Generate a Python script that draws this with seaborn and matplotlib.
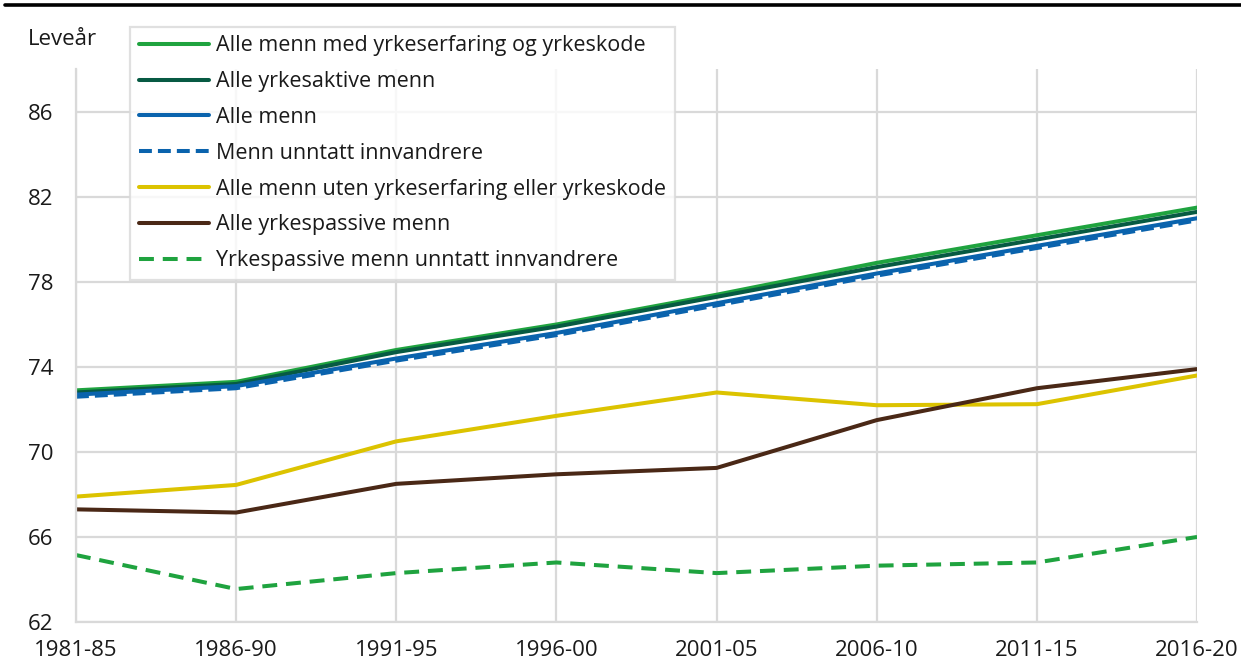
import numpy as np
import pandas as pd
import seaborn as sns
import matplotlib.pyplot as plt
from matplotlib.lines import Line2D

periods = ["1981-85", "1986-90", "1991-95", "1996-00", "2001-05", "2006-10", "2011-15", "2016-20"]

med_yrke = [72.9, 73.3, 74.8, 76.0, 77.4, 78.9, 80.2, 81.5]
yrkesaktive = [72.8, 73.2, 74.7, 75.9, 77.3, 78.7, 80.0, 81.3]
alle_menn = [72.7, 73.1, 74.4, 75.6, 77.0, 78.4, 79.7, 81.0]
unntatt_innv = [72.6, 73.0, 74.3, 75.5, 76.9, 78.3, 79.6, 80.9]
uten_yrke = [67.9, 68.45, 70.5, 71.7, 72.8, 72.2, 72.25, 73.6]
yrkespassive = [67.3, 67.15, 68.5, 68.95, 69.25, 71.5, 73.0, 73.9]
passive_unntatt = [65.15, 63.55, 64.3, 64.8, 64.3, 64.65, 64.8, 66.0]

names = [
    "Alle menn med yrkeserfaring og yrkeskode",
    "Alle yrkesaktive menn",
    "Alle menn",
    "Menn unntatt innvandrere",
    "Alle menn uten yrkeserfaring eller yrkeskode",
    "Alle yrkespassive menn",
    "Yrkespassive menn unntatt innvandrere",
]
series = [med_yrke, yrkesaktive, alle_menn, unntatt_innv, uten_yrke, yrkespassive, passive_unntatt]
colors = ["#1fa33f", "#075a43", "#0a63ad", "#0a63ad", "#dcc300", "#4a2816", "#1fa33f"]
dashes = ["", "", "", (3.2, 1.5), "", "", (3.7, 2.2)]

df = pd.concat([
    pd.DataFrame({"periode": periods, "verdi": s, "serie": n})
    for n, s in zip(names, series)
])

sns.set_style("white")
plt.rcParams["font.family"] = ["Open Sans", "DejaVu Sans"]

fig = plt.figure(figsize=(12.41, 6.65), dpi=100)
ax = fig.add_axes([0.0612, 0.0647, 0.9034, 0.8308])

sns.lineplot(data=df, x="periode", y="verdi", hue="serie", style="serie",
             palette=dict(zip(names, colors)), dashes=dict(zip(names, dashes)),
             hue_order=names, style_order=names, linewidth=2.9, sort=False,
             legend=False, ax=ax)

ax.set_xlim(0, len(periods) - 1)
ax.set_ylim(62, 88)
ax.set_yticks(np.arange(62, 87, 4))
ax.set_xticks(range(len(periods)))
ax.set_xticklabels(periods)
ax.set_xlabel("")
ax.set_ylabel("")
ax.grid(True, color="#d9d9d9", linewidth=1.6)
for side in ["top", "right"]:
    ax.spines[side].set_visible(False)
for side in ["left", "bottom"]:
    ax.spines[side].set_color("#d9d9d9")
    ax.spines[side].set_linewidth(1.6)
ax.tick_params(axis="y", length=0, pad=16.5, labelsize=16, colors="#1a1a1a")
ax.tick_params(axis="x", length=0, pad=13, labelsize=16, colors="#1a1a1a")
ax.set_axisbelow(True)

fig.text(0.0225, 0.94, "Leveår", fontsize=16, ha="left", va="center", color="#1a1a1a")

handles = [Line2D([0], [0], color=c, linewidth=2.9,
                  linestyle="-" if d == "" else (0, d))
           for c, d in zip(colors, dashes)]
leg = fig.legend(handles, names, loc="upper left", bbox_to_anchor=(0.105, 0.96),
                 fontsize=15.5, frameon=True, fancybox=False, handlelength=3.25,
                 handletextpad=0.33, labelspacing=0.69, borderpad=0.4,
                 borderaxespad=0)
leg.get_frame().set_edgecolor("#d9d9d9")
leg.get_frame().set_linewidth(1.6)
for t in leg.get_texts():
    t.set_color("#1a1a1a")

fig.add_artist(Line2D([0.004, 1.0], [0.992, 0.992], color="black", linewidth=2.6,
                      transform=fig.transFigure))

fig.savefig("out.png", dpi=100)
